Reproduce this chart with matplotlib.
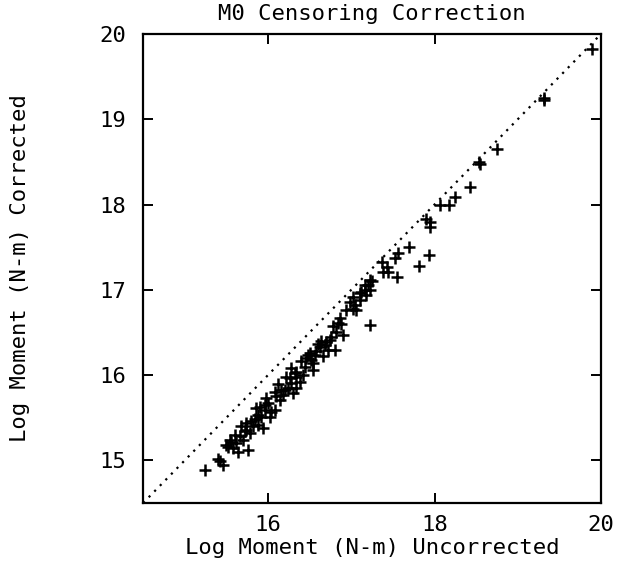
import matplotlib

matplotlib.use("Agg")

import matplotlib.pyplot as plt

# log moment before / after the censoring correction
uncorrected = [
    19.89, 19.31, 19.32, 18.75, 18.55, 18.53, 18.43, 18.25, 18.17, 18.07,
    17.95, 17.95, 17.90, 17.93, 17.81, 17.69, 17.55, 17.56, 17.53, 17.43,
    17.37, 17.44, 17.25, 17.16, 17.10, 17.22, 17.22, 17.38,
    15.24, 15.42, 15.40, 15.46, 15.76, 15.54, 15.58, 15.62, 15.66, 15.60,
    15.70, 15.52, 15.64, 15.78, 15.74, 15.82, 15.88, 15.94, 15.74,
    15.86, 15.90, 15.96, 16.00, 16.04, 16.08, 16.02, 15.92, 15.98, 15.88,
    16.15, 16.12, 16.18, 16.24, 16.28, 16.30, 16.34, 16.34, 16.38, 16.42,
    16.26, 16.20, 16.44, 16.46, 16.50, 16.54, 16.58, 16.62, 16.66, 16.70,
    16.72, 16.76, 16.80, 16.82, 16.78, 16.84, 16.86, 16.90, 16.34, 16.54,
    16.98, 17.02, 17.06, 17.10, 17.18, 17.20, 17.22, 17.16, 17.02, 16.94,
    16.08, 16.22, 16.40, 16.60, 16.64, 16.48, 15.84, 15.68,
    15.56, 15.72, 15.80, 15.96, 16.10, 16.16, 16.32, 16.52, 16.56, 16.68,
    16.74, 16.88, 17.04, 17.12, 15.50, 16.28,
]
corrected = [
    19.83, 19.23, 19.25, 18.65, 18.47, 18.50, 18.21, 18.09, 17.99, 17.99,
    17.80, 17.74, 17.83, 17.41, 17.28, 17.50, 17.15, 17.43, 17.37, 17.27,
    17.33, 17.21, 17.10, 17.06, 16.96, 17.00, 16.59, 17.21,
    14.89, 14.99, 15.01, 14.95, 15.12, 15.24, 15.14, 15.20, 15.28, 15.30,
    15.24, 15.16, 15.10, 15.32, 15.36, 15.40, 15.42, 15.38, 15.44,
    15.61, 15.63, 15.59, 15.67, 15.57, 15.59, 15.51, 15.51, 15.73, 15.53,
    15.71, 15.89, 15.77, 15.85, 15.91, 15.79, 15.85, 15.98, 15.92, 16.00,
    15.96, 15.83, 16.10, 16.20, 16.26, 16.14, 16.28, 16.33, 16.22, 16.39,
    16.30, 16.45, 16.30, 16.51, 16.57, 16.61, 16.67, 16.47, 16.04, 16.06,
    16.86, 16.92, 16.76, 16.88, 16.94, 17.06, 17.12, 17.00, 16.78, 16.76,
    15.80, 15.98, 16.16, 16.36, 16.40, 16.24, 15.48, 15.40,
    15.22, 15.34, 15.46, 15.65, 15.75, 15.82, 16.02, 16.18, 16.24, 16.35,
    16.41, 16.60, 16.82, 16.98, 15.18, 16.08,
]

x_ticks = [16, 18, 20]
y_ticks = [15, 16, 17, 18, 19, 20]
axis_lim = (14.5, 20.0)

font = {"family": "DejaVu Sans Mono", "size": 16}

fig = plt.figure(figsize=(6.25, 5.63), dpi=100)
ax = fig.add_axes([0.229, 0.1066, 0.7326, 0.833])

ax.plot(axis_lim, axis_lim, color="black", linestyle=(0, (1, 2.6)), linewidth=1.6)
ax.plot(uncorrected, corrected, linestyle="none", marker="+", markersize=8.5,
        markeredgewidth=1.8, color="black")

ax.set_xlim(*axis_lim)
ax.set_ylim(*axis_lim)
ax.set_xticks(x_ticks)
ax.set_yticks(y_ticks)
ax.set_xticklabels([str(t) for t in x_ticks], fontdict=font)
ax.set_yticklabels([str(t) for t in y_ticks], fontdict=font)
ax.tick_params(direction="in", length=7, width=1.4, top=True, right=True)
ax.tick_params(axis="x", pad=9)
ax.tick_params(axis="y", pad=12)
for spine in ax.spines.values():
    spine.set_linewidth(1.6)

fig.text(0.5 * (0.229 + 0.9616), 1 - 14 / 563, "M0 Censoring Correction",
         ha="center", va="center", **font)
fig.text(0.5 * (0.229 + 0.9616), 1 - 548 / 563, "Log Moment (N-m) Uncorrected",
         ha="center", va="center", **font)
fig.text(20 / 625, 1 - 268 / 563, "Log Moment (N-m) Corrected",
         ha="center", va="center", rotation=90, **font)

fig.savefig("out.png", dpi=100, facecolor="white")
